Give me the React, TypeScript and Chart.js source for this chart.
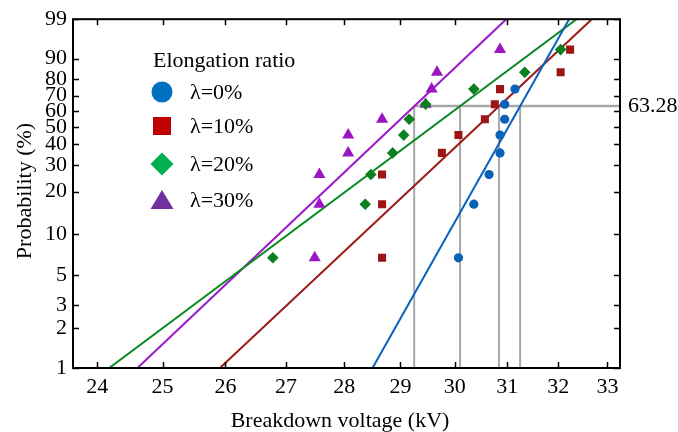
import React, { useEffect, useRef } from 'react';
import { Chart, registerables } from 'chart.js';

Chart.register(...registerables);

// Median-rank probabilities (%) of the ordered breakdown events
const probabilities = [6.73, 16.35, 25.96, 35.58, 45.19, 54.81, 64.42, 74.04, 83.65, 93.27];

// Breakdown voltages (kV), ordered, per elongation ratio
const voltage0 = [30.07, 30.36, 30.65, 30.86, 30.86, 30.95, 30.95, 31.15];
const voltage10 = [28.67, 28.67, 28.67, 29.76, 30.07, 30.57, 30.76, 30.86, 32.05, 32.24];
const voltage20 = [26.78, 28.37, 28.47, 28.86, 29.06, 29.16, 29.46, 30.36, 31.34, 32.05];
const voltage30 = [27.49, 27.57, 27.57, 28.07, 28.07, 28.67, 29.46, 29.57, 29.67, 30.86];

const seriesLabels = ['λ=0%', 'λ=10%', 'λ=20%', 'λ=30%'];
const legendTitle = 'Elongation ratio';
const xTitle = 'Breakdown voltage (kV)';
const yTitle = 'Probability (%)';

// Fitted Weibull lines: voltage at 1 % and at 99 %
const fitAt1 = [28.5, 25.91, 24.18, 24.61];
const fitAt99 = [32.22, 32.68, 32.37, 30.98];

// Scale parameters (voltage at 63.28 %)
const scaleParams = [31.25, 30.84, 30.1, 29.25];
const refProbability = 63.28;

const xTicks = [24, 25, 26, 27, 28, 29, 30, 31, 32, 33];
const yTicks = [1, 2, 3, 5, 10, 20, 30, 40, 50, 60, 70, 80, 90, 99];
const xMin = 23.64;
const xMax = 33.26;

const pointColors = ['#0a62b8', '#9c1616', '#0b8020', '#9a16c2'];
const lineColors = ['#0a62c0', '#9c1a1a', '#0b8a22', '#9a18c8'];
const legendColors = ['#0070C0', '#C00000', '#00B050', '#7030A0'];
const pointStyles = ['circle', 'rect', 'rectRot', 'triangle'];
const pointRadii = [4.6, 5.7, 5.8, 7];

const FONT = '"Liberation Serif", "Times New Roman", serif';

const weib = (p: number) => Math.log(-Math.log(1 - p / 100));

const framePlugin = {
  id: 'frameTicksLegend',
  afterDraw(chart: any) {
    const { ctx, chartArea } = chart;
    const { left, right, top, bottom } = chartArea;
    const xs = chart.scales.x;
    const ys = chart.scales.y;
    ctx.save();
    ctx.strokeStyle = '#000';
    ctx.lineWidth = 2;
    ctx.strokeRect(left, top, right - left, bottom - top);
    ctx.lineWidth = 1.5;
    const tl = 6;
    ctx.beginPath();
    xTicks.forEach((v) => {
      const px = Math.round(xs.getPixelForValue(v)) + 0.5;
      ctx.moveTo(px, bottom);
      ctx.lineTo(px, bottom - tl);
      ctx.moveTo(px, top);
      ctx.lineTo(px, top + tl);
    });
    yTicks.forEach((p) => {
      const py = Math.round(ys.getPixelForValue(weib(p))) + 0.5;
      ctx.moveTo(left, py);
      ctx.lineTo(left + tl, py);
      ctx.moveTo(right, py);
      ctx.lineTo(right - tl, py);
    });
    ctx.stroke();

    ctx.fillStyle = '#000';
    ctx.font = `22px ${FONT}`;

    // axis titles
    ctx.textAlign = 'center';
    ctx.textBaseline = 'alphabetic';
    ctx.fillText(xTitle, 340, 427);
    ctx.save();
    ctx.translate(25, 191);
    ctx.rotate(-Math.PI / 2);
    ctx.textBaseline = 'middle';
    ctx.fillText(yTitle, 0, 0);
    ctx.restore();

    // reference label
    ctx.textBaseline = 'middle';
    ctx.textAlign = 'left';
    ctx.fillText(String(refProbability), right + 8, ys.getPixelForValue(weib(refProbability)));

    // legend
    ctx.fillText(legendTitle, 153, 61);
    const mx = 162;
    const rows = [92, 126, 164, 200];
    rows.forEach((cy, i) => {
      ctx.fillStyle = legendColors[i];
      ctx.beginPath();
      if (i === 0) {
        ctx.arc(mx, cy, 10.5, 0, Math.PI * 2);
      } else if (i === 1) {
        ctx.rect(mx - 9, cy - 9, 18, 18);
      } else if (i === 2) {
        ctx.moveTo(mx - 11.5, cy);
        ctx.lineTo(mx, cy - 11.5);
        ctx.lineTo(mx + 11.5, cy);
        ctx.lineTo(mx, cy + 11.5);
        ctx.closePath();
      } else {
        ctx.moveTo(mx, cy - 10);
        ctx.lineTo(mx + 11.5, cy + 9);
        ctx.lineTo(mx - 11.5, cy + 9);
        ctx.closePath();
      }
      ctx.fill();
      ctx.fillStyle = '#000';
      ctx.fillText(seriesLabels[i], 190, cy + 1);
    });
    ctx.restore();
  },
};

export default function App() {
  const canvasRef = useRef<HTMLCanvasElement | null>(null);

  useEffect(() => {
    const canvas = canvasRef.current;
    if (!canvas) return;
    const voltages = [voltage0, voltage10, voltage20, voltage30];

    const datasets: any[] = [];
    // grey reference lines
    const etaMin = Math.min(...scaleParams);
    scaleParams.forEach((eta) => {
      datasets.push({
        type: 'line',
        data: [
          { x: eta, y: weib(1) },
          { x: eta, y: weib(refProbability) },
        ],
        borderColor: '#a8a8a8',
        borderWidth: 2,
        pointRadius: 0,
        order: 5,
      });
    });
    datasets.push({
      type: 'line',
      data: [
        { x: etaMin, y: weib(refProbability) },
        { x: xMax, y: weib(refProbability) },
      ],
      borderColor: '#a8a8a8',
      borderWidth: 2.5,
      pointRadius: 0,
      order: 5,
    });
    // fitted lines
    fitAt1.forEach((v1, i) => {
      datasets.push({
        type: 'line',
        data: [
          { x: v1, y: weib(1) },
          { x: fitAt99[i], y: weib(99) },
        ],
        borderColor: lineColors[i],
        borderWidth: 2,
        pointRadius: 0,
        order: 3,
      });
    });
    // data points
    voltages.forEach((vals, i) => {
      datasets.push({
        type: 'scatter',
        label: seriesLabels[i],
        data: vals.map((v, k) => ({ x: v, y: weib(probabilities[k]) })),
        backgroundColor: pointColors[i],
        borderColor: pointColors[i],
        borderWidth: 0,
        pointStyle: pointStyles[i],
        pointRadius: pointRadii[i],
        showLine: false,
        order: 1,
      });
    });

    const chart = new Chart(canvas, {
      type: 'scatter',
      data: { datasets },
      options: {
        animation: false,
        responsive: false,
        devicePixelRatio: 1,
        layout: { padding: { top: 18, right: 58, left: 0, bottom: 0 } },
        plugins: {
          legend: { display: false },
          tooltip: { enabled: false },
        },
        scales: {
          x: {
            type: 'logarithmic',
            min: xMin,
            max: xMax,
            afterBuildTicks: (scale: any) => {
              scale.ticks = xTicks.map((v) => ({ value: v }));
            },
            afterFit: (scale: any) => {
              scale.height = 64;
            },
            grid: { display: false, drawTicks: false },
            border: { display: false },
            ticks: {
              autoSkip: false,
              maxRotation: 0,
              padding: 6,
              color: '#000',
              font: { family: FONT, size: 22 },
              callback: (value: any) => String(value),
            },
            title: { display: false },
          },
          y: {
            type: 'linear',
            min: weib(1),
            max: weib(99),
            afterBuildTicks: (scale: any) => {
              scale.ticks = yTicks.map((p) => ({ value: weib(p) }));
            },
            afterFit: (scale: any) => {
              scale.width = 73;
            },
            grid: { display: false, drawTicks: false },
            border: { display: false },
            ticks: {
              autoSkip: false,
              padding: 6,
              color: '#000',
              font: { family: FONT, size: 22 },
              callback: (_v: any, index: number) => String(yTicks[index]),
            },
            title: { display: false },
          },
        },
      },
      plugins: [framePlugin],
    } as any);

    return () => chart.destroy();
  }, []);

  return (
    <div style={{ position: 'fixed', left: 0, top: 0, width: 678, height: 432, background: '#fff' }}>
      <canvas ref={canvasRef} width={678} height={432} style={{ width: 678, height: 432 }} />
    </div>
  );
}
